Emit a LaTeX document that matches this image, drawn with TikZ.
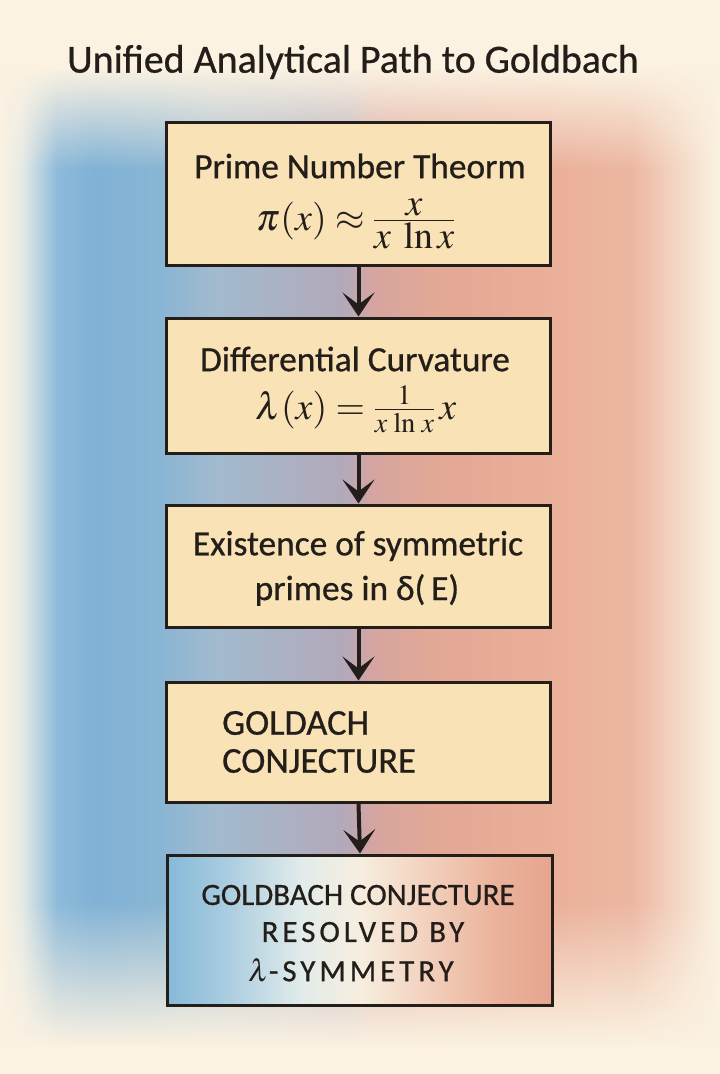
\documentclass[tikz,border=0pt]{standalone}
\usepackage{mathptmx}
\usepackage[no-math]{fontspec}
\setmainfont{Carlito}[FakeBold=0.7]
\usetikzlibrary{arrows.meta,fadings}
\definecolor{bgcream}{HTML}{FBF2E2}
\definecolor{boxtan}{HTML}{F8E2B6}
\definecolor{inkc}{HTML}{231E1A}
\definecolor{bZ}{HTML}{E6EBE6}
\definecolor{bA}{HTML}{8DBADA}
\definecolor{bB}{HTML}{80B2D6}
\definecolor{bC}{HTML}{88B5D4}
\definecolor{bD}{HTML}{A2BACE}
\definecolor{bE}{HTML}{B3A9BA}
\definecolor{rA}{HTML}{D6A5A0}
\definecolor{rB}{HTML}{E2A896}
\definecolor{rC}{HTML}{EAAE98}
\definecolor{rC2}{HTML}{ECB7A2}
\definecolor{rD}{HTML}{F4D5C3}
\definecolor{fA}{HTML}{86BAD9}
\definecolor{fB}{HTML}{A9CCE0}
\definecolor{fC}{HTML}{E2ECEA}
\definecolor{fD}{HTML}{F6EEDF}
\definecolor{fE}{HTML}{F3D5C2}
\definecolor{fF}{HTML}{EBB39C}
\definecolor{fG}{HTML}{E6A48E}
% TikZ fits the middle 25bp..75bp of a 100bp shading to the path
\pgfdeclarehorizontalshading{bgband}{100bp}{color(0bp)=(bgcream); color(25bp)=(bgcream); color(26.5bp)=(bZ); color(29bp)=(bA); color(31.5bp)=(bB); color(36bp)=(bC); color(40bp)=(bD); color(49bp)=(bE); color(51bp)=(rA); color(55bp)=(rB); color(62.5bp)=(rC); color(69bp)=(rC2); color(72bp)=(rD); color(75bp)=(bgcream); color(100bp)=(bgcream)}
\pgfdeclareverticalshading{vfadesh}{100bp}{color(0bp)=(black); color(26.4bp)=(black); color(33.1bp)=(white); color(67bp)=(white); color(71.75bp)=(black); color(100bp)=(black)}
\pgfdeclarefading{vfade}{\pgfuseshading{vfadesh}}
\pgfdeclarehorizontalshading{finalsh}{100bp}{color(0bp)=(fA); color(25bp)=(fA); color(32.5bp)=(fB); color(42.5bp)=(fC); color(50bp)=(fD); color(57.5bp)=(fE); color(67.5bp)=(fF); color(75bp)=(fG); color(100bp)=(fG)}
\tikzset{
  flowbox/.style={draw=inkc, line width=3bp, fill=boxtan, rectangle, inner sep=0pt},
  boxtxt/.style={text=inkc, inner sep=0pt, font=\fontsize{35.5}{40}\selectfont},
  lasttxt/.style={text=inkc, inner sep=0pt, font=\fontsize{31}{36}\selectfont},
  mathtxt/.style={text=inkc, inner sep=0pt, font=\fontsize{38}{42}\selectfont},
  flowarrow/.style={draw=inkc, line width=4bp, -{Stealth[length=24bp,width=32bp,inset=12bp]}},
}
\begin{document}
\begin{tikzpicture}[x=1bp,y=-1bp]
\useasboundingbox (0,0) rectangle (720,1074);
\fill[bgcream] (0,0) rectangle (720,1074);
\shade[shading=bgband, path fading=vfade] (0,0) rectangle (720,1074);
% title
\node[text=inkc, inner sep=0pt, font=\fontsize{40}{44}\selectfont] (title) at (353,62) {Unified Analytical Path to Goldbach};
% boxes
\node[flowbox, minimum width=383bp, minimum height=143bp] (b1) at (358.5,193.5) {};
\node[flowbox, minimum width=383bp, minimum height=135bp] (b2) at (358.5,385.5) {};
\node[flowbox, minimum width=383bp, minimum height=122bp] (b3) at (358.5,566) {};
\node[flowbox, minimum width=383bp, minimum height=120bp] (b4) at (358.5,742) {};
\node[flowbox, minimum width=384bp, minimum height=150bp, shading=finalsh] (b5) at (360,930) {};
% arrows
\draw[flowarrow] (b1.south) -- (b2.north);
\draw[flowarrow] (b2.south) -- (b3.north);
\draw[flowarrow] (b3.south) -- (b4.north);
\draw[flowarrow] (b4.south) -- (b5.north);
% texts
\node[boxtxt] (t1a) at (360,166) {Prime Number Theorm};
\node[mathtxt] (t1b) at (356,224) {$\pi(x)\approx\frac{\textstyle\,x\,}{\textstyle x\;\ln x}$};
\node[boxtxt] (t2a) at (355,359) {Differential Curvature};
\node[mathtxt] (t2b) at (356,409) {$\lambda(x)=\frac{1}{x\,\ln\, x}\,x$};
\node[boxtxt] (t3a) at (358,546) {Existence of symmetric};
\node[boxtxt] (t3b) at (357,590) {primes in δ(\,E)};
\node[boxtxt, font=\fontsize{36.5}{40}\selectfont, anchor=west] (t4a) at (222,723) {GOLDACH};
\node[boxtxt, font=\fontsize{36.5}{40}\selectfont, anchor=west] (t4b) at (222,761) {CONJECTURE};
\node[lasttxt] (t5a) at (358,895) {GOLDBACH CONJECTURE};
\node[lasttxt, font=\fontsize{31}{36}\selectfont\addfontfeatures{LetterSpace=13}] (t5b) at (363,932) {RESOLVED BY};
\node[lasttxt, font=\fontsize{31}{36}\selectfont\addfontfeatures{LetterSpace=13}] (t5c) at (351,970) {$\lambda$-SYMMETRY};
\end{tikzpicture}
\end{document}
